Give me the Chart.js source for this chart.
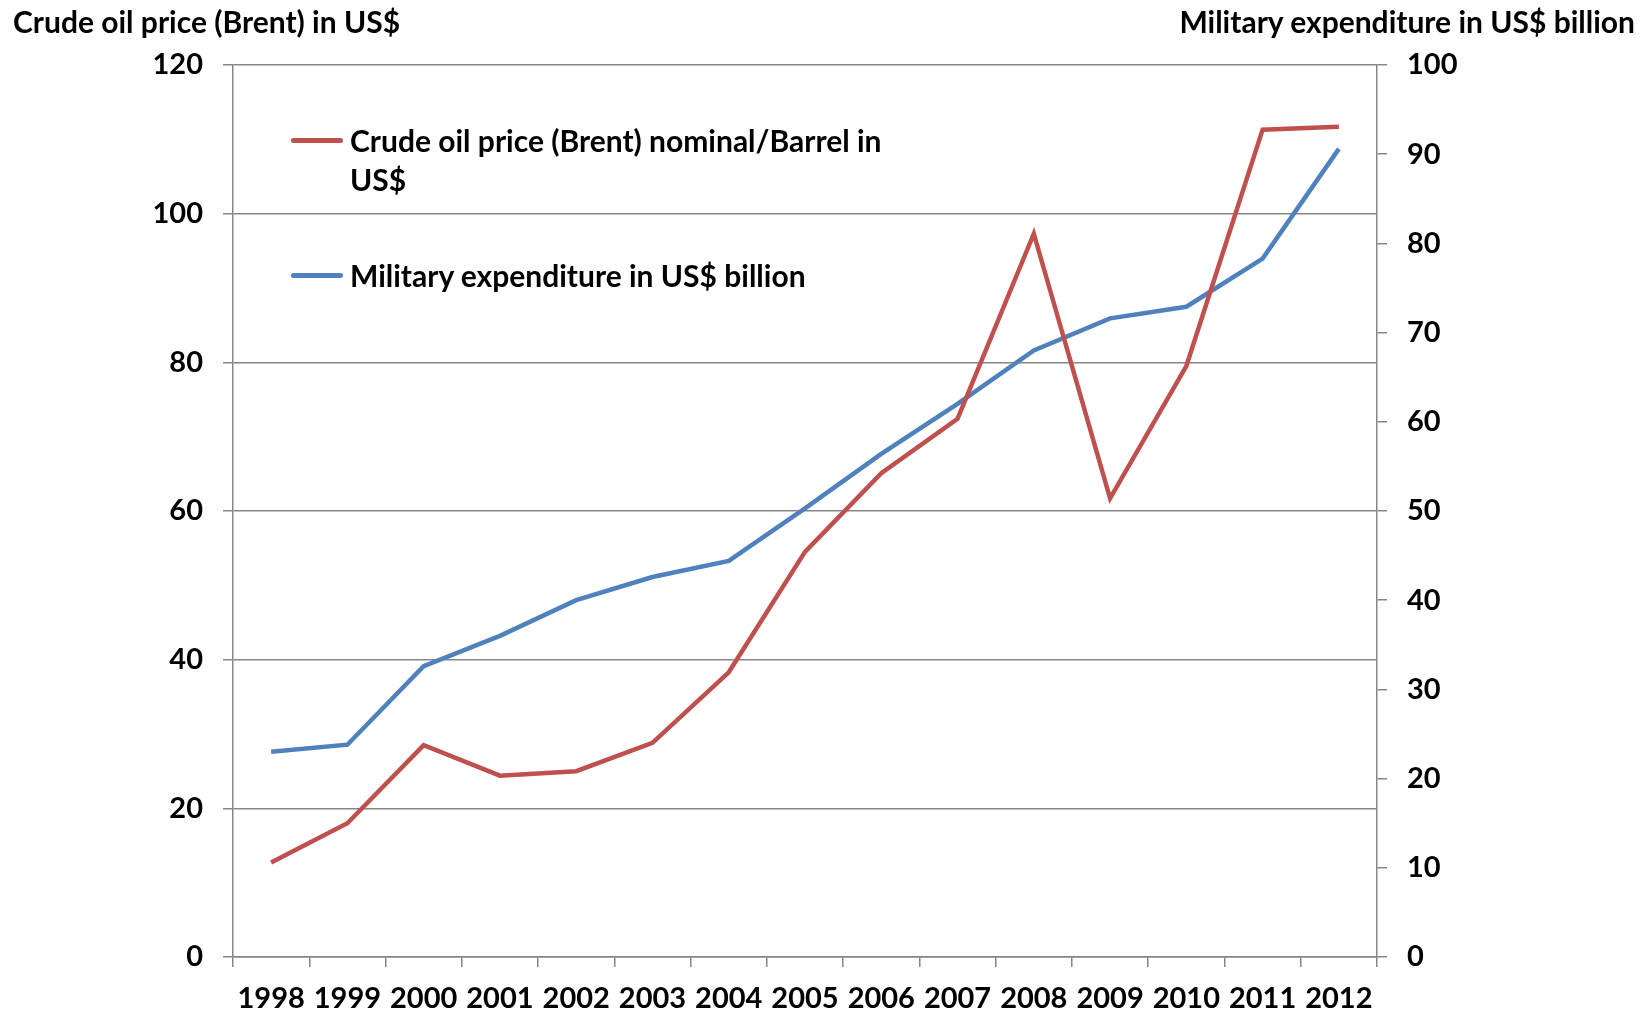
<!DOCTYPE html>
<html>
<head>
<meta charset="utf-8">
<script src="https://cdn.jsdelivr.net/npm/chart.js@4.4.1/dist/chart.umd.min.js"></script>
<style>
  html, body { margin: 0; padding: 0; background: #fff; }
  #wrap { position: relative; width: 1647px; height: 1013px; font-family: Lato, "Open Sans", sans-serif; font-weight: bold; color: #000; }
  canvas { position: absolute; left: 0; top: 0; }
  .axis-title { position: absolute; top: 3px; font-size: 30px; white-space: nowrap; }
  .legend { position: absolute; left: 291px; font-size: 30px; line-height: 39px; }
  .legend .swatch { position: absolute; left: 0; top: 17px; width: 52px; height: 5px; border-radius: 3px; }
  .legend .text { margin-left: 59px; }
</style>
</head>
<body>
<div id="wrap">
  <canvas id="oilChart" width="1647" height="1013"></canvas>
  <div class="axis-title" style="left: 13px;">Crude oil price (Brent) in US$</div>
  <div class="axis-title" style="right: 12px;">Military expenditure in US$ billion</div>
  <div class="legend" style="top: 121px; width: 700px;">
    <div class="swatch" style="background: #C0504D;"></div>
    <div class="text">Crude oil price (Brent) nominal/Barrel in<br>US$</div>
  </div>
  <div class="legend" style="top: 256px;">
    <div class="swatch" style="background: #4F81BD;"></div>
    <div class="text">Military expenditure in US$ billion</div>
  </div>
</div>
<script>
// data
const years = ['1998', '1999', '2000', '2001', '2002', '2003', '2004', '2005',
               '2006', '2007', '2008', '2009', '2010', '2011', '2012'];
const oilPrice = [12.7, 18.0, 28.5, 24.4, 25.0, 28.8, 38.3, 54.5, 65.1, 72.4, 97.3, 61.7, 79.5, 111.3, 111.7];
const military = [23.0, 23.8, 32.6, 36.0, 40.0, 42.6, 44.4, 50.3, 56.4, 62.0, 68.0, 71.6, 72.9, 78.3, 90.6];
const leftTicks = [0, 20, 40, 60, 80, 100, 120];
const rightTicks = [0, 10, 20, 30, 40, 50, 60, 70, 80, 90, 100];

const axisGrey = '#868686';
const tickFont = { family: 'Lato, "Open Sans", sans-serif', size: 29, weight: 'bold' };

const fixWidth = (w) => (scale) => { scale.width = w; };
const fixHeight = (h) => (scale) => { scale.height = h; };

new Chart(document.getElementById('oilChart').getContext('2d'), {
    type: 'line',
    data: {
        labels: years,
        datasets: [
            {
                label: 'Crude oil price (Brent) nominal/Barrel in US$',
                data: oilPrice,
                borderColor: '#C0504D',
                borderWidth: 4.5,
                pointRadius: 0,
                tension: 0,
                yAxisID: 'y'
            },
            {
                label: 'Military expenditure in US$ billion',
                data: military,
                borderColor: '#4F81BD',
                borderWidth: 4.5,
                pointRadius: 0,
                tension: 0,
                yAxisID: 'y1'
            }
        ]
    },
    options: {
        responsive: false,
        animation: false,
        layout: { padding: { top: 65, left: 0, right: 0, bottom: 0 } },
        plugins: {
            legend: { display: false },
            tooltip: { enabled: false }
        },
        scales: {
            x: {
                offset: true,
                afterFit: fixHeight(56),
                grid: { offset: true, drawOnChartArea: false, color: axisGrey, lineWidth: 1.5, tickLength: 10 },
                border: { color: axisGrey, width: 1.5 },
                ticks: { color: '#000', font: tickFont, padding: 14, maxRotation: 0, autoSkip: false }
            },
            y: {
                position: 'left',
                min: 0,
                max: 120,
                afterFit: fixWidth(233),
                afterBuildTicks: (scale) => { scale.ticks = leftTicks.map(v => ({ value: v })); },
                grid: { color: axisGrey, lineWidth: 1.5, tickLength: 10 },
                border: { color: axisGrey, width: 1.5 },
                ticks: { color: '#000', font: tickFont, padding: 20 }
            },
            y1: {
                position: 'right',
                min: 0,
                max: 100,
                afterFit: fixWidth(270),
                afterBuildTicks: (scale) => { scale.ticks = rightTicks.map(v => ({ value: v })); },
                grid: { drawOnChartArea: false, color: axisGrey, lineWidth: 1.5, tickLength: 10 },
                border: { color: axisGrey, width: 1.5 },
                ticks: { color: '#000', font: tickFont, padding: 20 }
            }
        }
    }
});
</script>
</body>
</html>
